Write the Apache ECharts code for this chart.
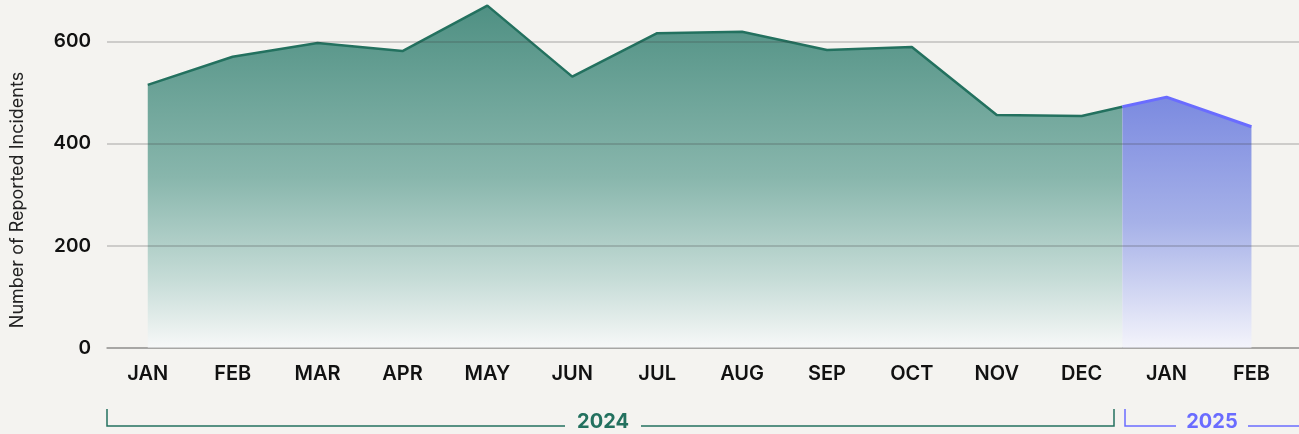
<!DOCTYPE html>
<html>
<head>
<meta charset="utf-8">
<script src="https://cdn.jsdelivr.net/npm/echarts@6/dist/echarts.min.js"></script>
<style>
  html, body { margin: 0; padding: 0; background: #f4f3f0; }
  #chart { width: 1299px; height: 434px; }
</style>
</head>
<body>
<div id="chart"></div>
<script>
// month labels along the bottom (2024 + first two of 2025)
const months = ["JAN", "FEB", "MAR", "APR", "MAY", "JUN", "JUL", "AUG", "SEP", "OCT", "NOV", "DEC", "JAN", "FEB"];
const monthPos = [0, 1, 2, 3, 4, 5, 6, 7, 8, 9, 10, 11, 12, 13];

// [month position, incidents]
const incidents2024 = [
  [0, 515], [1, 570], [2, 597], [3, 581], [4, 670], [5, 531],
  [6, 616], [7, 619], [8, 583], [9, 589], [10, 456], [11, 454], [11.48, 472]
];
const incidents2025 = [[11.48, 472], [12, 491], [13, 433]];

const yTicks = [0, 200, 400, 600];

const green = "#23715f";
const blue = "#6a6cff";

const chart = echarts.init(document.getElementById("chart"));

const option = {
  backgroundColor: "#f4f3f0",
  animation: false,
  grid: { left: 107, right: 0, top: 0, bottom: 86 },
  xAxis: {
    type: "value",
    min: -0.48,
    max: 13.56,
    splitLine: { show: false },
    axisTick: { show: false },
    axisLine: { show: true, lineStyle: { color: "#c4c3c0", width: 2 } },
    axisLabel: {
      customValues: monthPos,
      formatter: (v) => months[Math.round(v)],
      margin: 16,
      color: "#111",
      fontFamily: "Inter",
      fontWeight: 600,
      fontSize: 20,
    },
  },
  yAxis: {
    type: "value",
    min: 0,
    max: 681,
    interval: 200,
    z: 5,
    axisLine: { show: false },
    axisTick: { show: false },
    axisLabel: {
      customValues: yTicks,
      margin: 16,
      color: "#111",
      fontFamily: "Inter",
      fontWeight: 600,
      fontSize: 19,
    },
    splitLine: { showMaxLine: false, lineStyle: { color: "rgba(60,60,60,0.28)", width: 1.6 } },
  },
  series: [
    {
      name: "2024",
      type: "line",
      data: incidents2024,
      symbol: "none",
      lineStyle: { color: green, width: 2.5 },
      areaStyle: {
        opacity: 1,
        color: new echarts.graphic.LinearGradient(0, 0, 0, 1, [
          { offset: 0, color: "#4f9083" },
          { offset: 0.5, color: "#88b6ac" },
          { offset: 0.8, color: "#c6dcd7" },
          { offset: 1, color: "#f7f8f8" },
        ]),
      },
    },
    {
      name: "2025",
      type: "line",
      data: incidents2025,
      symbol: "none",
      lineStyle: { color: blue, width: 3 },
      areaStyle: {
        opacity: 1,
        color: new echarts.graphic.LinearGradient(0, 0, 0, 1, [
          { offset: 0, color: "#7b8ae0" },
          { offset: 0.5, color: "#a6b1e8" },
          { offset: 1, color: "#f4f4fb" },
        ]),
      },
    },
  ],
  graphic: [
    {
      type: "text",
      rotation: Math.PI / 2,
      x: 18, y: 200,
      style: {
        text: "Number of Reported Incidents",
        fill: "#222",
        font: "18px Inter",
        align: "center",
        verticalAlign: "middle",
      },
    },
    // 2024 bracket
    {
      type: "polyline",
      shape: { points: [[107, 409], [107, 426], [565, 426]] },
      style: { stroke: green, lineWidth: 1.5, fill: null },
    },
    {
      type: "polyline",
      shape: { points: [[641, 426], [1114, 426], [1114, 409]] },
      style: { stroke: green, lineWidth: 1.5, fill: null },
    },
    {
      type: "text",
      x: 603, y: 422,
      style: { text: "2024", fill: green, font: "bold 20px Inter", align: "center", verticalAlign: "middle" },
    },
    // 2025 bracket
    {
      type: "polyline",
      shape: { points: [[1125, 409], [1125, 426], [1176, 426]] },
      style: { stroke: blue, lineWidth: 1.5, fill: null },
    },
    {
      type: "polyline",
      shape: { points: [[1248, 426], [1299, 426]] },
      style: { stroke: blue, lineWidth: 1.5, fill: null },
    },
    {
      type: "text",
      x: 1212, y: 422,
      style: { text: "2025", fill: blue, font: "bold 20px Inter", align: "center", verticalAlign: "middle" },
    },
  ],
};

chart.setOption(option);
</script>
</body>
</html>
